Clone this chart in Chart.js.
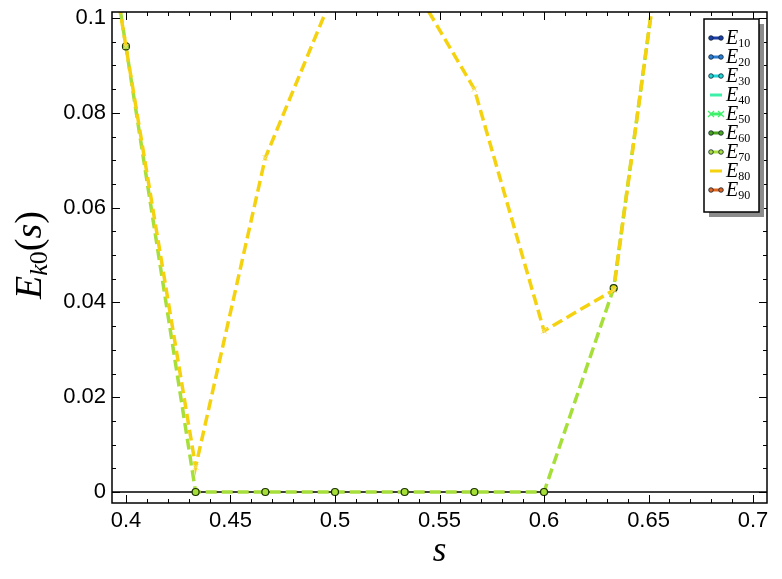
<!DOCTYPE html>
<html>
<head>
<meta charset="utf-8">
<script src="https://cdn.jsdelivr.net/npm/chart.js@4.4.1/dist/chart.umd.min.js"></script>
<style>
html, body { margin: 0; padding: 0; background: #fff; }
</style>
</head>
<body>
<canvas id="energiaChart" width="782" height="579"></canvas>
<script>
// Valores de s (el primero cae fuera del eje: solo sirve para que la línea entre por arriba)
const sValues = [0.36667, 0.4, 0.43333, 0.46667, 0.5, 0.53333, 0.56667, 0.6, 0.63333, 0.66667];
// E10..E70 y E90 se superponen en la figura
const eBase = [0.188, 0.094, 0, 0, 0, 0, 0, 0, 0.043, 0.151];
// E80, la curva amarilla
const e80 = [0.183, 0.094, 0.0053, 0.0705, 0.106, 0.11, 0.085, 0.034, 0.0426, 0.151];

const seriesNames = ['10', '20', '30', '40', '50', '60', '70', '80', '90'];
const seriesColors = ['#1a3fa8', '#2a7fd4', '#1fd6d6', '#3cf0a8', '#3ef06a', '#4aa41c', '#a6df3a', '#f5d20f', '#e0641e'];
const legendMarkers = ['circle', 'circle', 'circle', null, 'crossRot', 'circle', 'circle', null, 'circle'];

const xTicks = [0.4, 0.45, 0.5, 0.55, 0.6, 0.65, 0.7];
const xTickLabels = ['0.4', '0.45', '0.5', '0.55', '0.6', '0.65', '0.7'];
const yTicks = [0, 0.02, 0.04, 0.06, 0.08, 0.1];
const yTickLabels = ['0', '0.02', '0.04', '0.06', '0.08', '0.1'];

const xMinor = [];
for (let i = 0; i <= 30; i++) xMinor.push(0.4 + i * 0.01);
const yMinor = [];
for (let i = 0; i <= 20; i++) yMinor.push(i * 0.005);

const tickFont = { family: 'Liberation Sans, Arial, sans-serif', size: 22 };

// Construir los datasets (las curvas tapadas no se dibujan, solo van en la leyenda)
const datasets = seriesNames.map((n, i) => {
    const vals = n === '80' ? e80 : eBase;
    const ds = {
        label: 'E' + n,
        data: sValues.map((s, j) => ({ x: s, y: vals[j] })),
        borderColor: seriesColors[i],
        backgroundColor: seriesColors[i],
        borderWidth: 3.5,
        borderDash: [11, 5],
        pointRadius: 0,
        showLine: false,
        fill: false,
        tension: 0,
        clip: 0,
        order: 2,
        legendMarker: legendMarkers[i]
    };
    if (n === '70') {
        ds.order = 1;
        ds.showLine = true;
        ds.pointRadius = 3.5;
        ds.pointBackgroundColor = '#a6df3a';
        ds.pointBorderColor = '#1c3300';
        ds.pointBorderWidth = 1.2;
    }
    if (n === '80') {
        ds.order = 0;
        ds.showLine = true;
        ds.pointStyle = 'crossRot';
        ds.pointRadius = 4;
        ds.pointBorderColor = '#f3e27a';
        ds.pointBorderWidth = 1;
    }
    return ds;
});

// Marco, ticks hacia dentro y línea del cero
const marcoPlugin = {
    id: 'marco',
    beforeDatasetsDraw(chart) {
        const { ctx, chartArea: a, scales: { y } } = chart;
        const y0 = y.getPixelForValue(0);
        ctx.save();
        ctx.strokeStyle = '#000';
        ctx.lineWidth = 1.4;
        ctx.beginPath();
        ctx.moveTo(a.left, y0);
        ctx.lineTo(a.right, y0);
        ctx.stroke();
        ctx.restore();
    },
    afterDatasetsDraw(chart) {
        const { ctx, chartArea: a, scales: { x, y } } = chart;
        ctx.save();
        ctx.strokeStyle = '#000';
        ctx.lineWidth = 1;
        ctx.beginPath();
        const tx = (v, len) => {
            const px = Math.round(x.getPixelForValue(v)) + 0.5;
            ctx.moveTo(px, a.bottom); ctx.lineTo(px, a.bottom - len);
            ctx.moveTo(px, a.top); ctx.lineTo(px, a.top + len);
        };
        const ty = (v, len) => {
            const py = Math.round(y.getPixelForValue(v)) + 0.5;
            ctx.moveTo(a.left, py); ctx.lineTo(a.left + len, py);
            ctx.moveTo(a.right, py); ctx.lineTo(a.right - len, py);
        };
        xMinor.forEach(v => tx(v, 4));
        xTicks.forEach(v => tx(v, 8));
        yMinor.forEach(v => ty(v, 4));
        yTicks.forEach(v => ty(v, 8));
        ctx.stroke();
        ctx.lineWidth = 1.5;
        ctx.strokeRect(a.left, a.top, a.right - a.left, a.bottom - a.top);
        ctx.restore();
    },
    afterDraw(chart) {
        const { ctx, chartArea: a } = chart;
        ctx.save();
        ctx.fillStyle = '#000';
        ctx.textBaseline = 'alphabetic';

        // Título eje x
        ctx.font = 'italic 35px "Liberation Serif", serif';
        ctx.textAlign = 'center';
        ctx.fillText('s', (a.left + a.right) / 2, 561);

        // Título eje y: E_{k0}(s)
        ctx.translate(41, 255);
        ctx.rotate(-Math.PI / 2);
        const parts = [
            { t: 'E', f: 'italic 38px "Liberation Serif", serif', dy: 0 },
            { t: 'k', f: 'italic 26px "Liberation Serif", serif', dy: 6 },
            { t: '0', f: '26px "Liberation Serif", serif', dy: 6 },
            { t: '(', f: '38px "Liberation Serif", serif', dy: 0 },
            { t: 's', f: 'italic 38px "Liberation Serif", serif', dy: 0 },
            { t: ')', f: '38px "Liberation Serif", serif', dy: 0 }
        ];
        let total = 0;
        parts.forEach(p => { ctx.font = p.f; p.w = ctx.measureText(p.t).width; total += p.w; });
        let cx = -total / 2;
        ctx.textAlign = 'left';
        parts.forEach(p => { ctx.font = p.f; ctx.fillText(p.t, cx, p.dy); cx += p.w; });
        ctx.restore();

        // Leyenda
        const box = { x: 704, y: 19, w: 55, h: 193 };
        ctx.save();
        ctx.fillStyle = '#8c8c8c';
        ctx.fillRect(box.x + 5, box.y + 5, box.w, box.h);
        ctx.fillStyle = '#fff';
        ctx.fillRect(box.x, box.y, box.w, box.h);
        ctx.strokeStyle = '#000';
        ctx.lineWidth = 1.5;
        ctx.strokeRect(box.x, box.y, box.w, box.h);
        chart.data.datasets.forEach((ds, i) => {
            const yy = box.y + 19 + i * 19;
            const x1 = box.x + 6, x2 = box.x + 18;
            ctx.strokeStyle = ds.borderColor;
            ctx.lineWidth = 3;
            ctx.beginPath();
            ctx.moveTo(x1, yy); ctx.lineTo(x2, yy);
            ctx.stroke();
            if (ds.legendMarker === 'circle') {
                [x1 + 1, x2 - 1].forEach(mx => {
                    ctx.beginPath();
                    ctx.arc(mx, yy, 2.3, 0, Math.PI * 2);
                    ctx.fillStyle = ds.borderColor;
                    ctx.fill();
                    ctx.lineWidth = 0.8;
                    ctx.strokeStyle = '#123';
                    ctx.stroke();
                });
            } else if (ds.legendMarker === 'crossRot') {
                ctx.strokeStyle = ds.borderColor;
                ctx.lineWidth = 1.2;
                [x1 + 1, x2 - 1].forEach(mx => {
                    ctx.beginPath();
                    ctx.moveTo(mx - 3, yy - 3); ctx.lineTo(mx + 3, yy + 3);
                    ctx.moveTo(mx - 3, yy + 3); ctx.lineTo(mx + 3, yy - 3);
                    ctx.stroke();
                });
            }
            ctx.fillStyle = '#000';
            ctx.textAlign = 'left';
            ctx.font = 'italic 20px "Liberation Serif", serif';
            ctx.fillText('E', x2 + 4, yy + 6);
            const wE = ctx.measureText('E').width;
            ctx.font = '12px "Liberation Serif", serif';
            ctx.fillText(ds.label.slice(1), x2 + 4 + wE, yy + 9);
        });
        ctx.restore();
    }
};

const ctx = document.getElementById('energiaChart').getContext('2d');
const energiaChart = new Chart(ctx, {
    type: 'line',
    data: { datasets: datasets },
    options: {
        responsive: false,
        animation: false,
        layout: { padding: { left: 0, right: 15, top: 12, bottom: 0 } },
        plugins: {
            legend: { display: false },
            tooltip: { enabled: false }
        },
        scales: {
            x: {
                type: 'linear',
                min: 0.39333,
                max: 0.70667,
                afterBuildTicks: s => { s.ticks = xTicks.map(v => ({ value: v })); },
                afterFit: s => { s.height = 76; s.paddingLeft = 0; s.paddingRight = 0; },
                grid: { display: false, drawTicks: false },
                border: { display: false },
                ticks: {
                    autoSkip: false,
                    maxRotation: 0,
                    padding: 5,
                    color: '#000',
                    font: tickFont,
                    callback: (v, i) => xTickLabels[i]
                }
            },
            y: {
                type: 'linear',
                min: -0.00232,
                max: 0.10127,
                afterBuildTicks: s => { s.ticks = yTicks.map(v => ({ value: v })); },
                afterFit: s => { s.width = 112; s.paddingTop = 0; s.paddingBottom = 0; },
                grid: { display: false, drawTicks: false },
                border: { display: false },
                ticks: {
                    autoSkip: false,
                    padding: 6,
                    color: '#000',
                    font: tickFont,
                    callback: (v, i) => yTickLabels[i]
                }
            }
        }
    },
    plugins: [marcoPlugin]
});
</script>
</body>
</html>
